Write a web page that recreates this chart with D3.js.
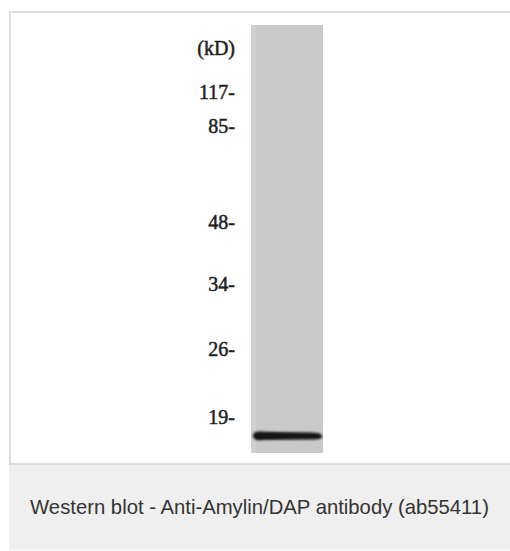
<!DOCTYPE html>
<html>
<head>
<meta charset="utf-8">
<script src="https://cdn.jsdelivr.net/npm/d3@7"></script>
<style>
  html, body { margin: 0; padding: 0; background: #fff; }
  svg { display: block; }
</style>
</head>
<body>
<div id="chart-area"></div>
<script>
// marker ladder (kD) and how far each ran down the lane (0 = top, 1 = bottom)
var markerKd = [117, 85, 48, 34, 26, 19];
var markerMigration = [0.157, 0.236, 0.460, 0.605, 0.757, 0.916];
var unitLabel = "(kD)";
var unitMigration = 0.054;

// detected bands in the single lane
var bandMigration = [0.960];
var bandIntensity = [1];

var caption = "Western blot - Anti-Amylin/DAP antibody (ab55411)";

var width = 510, height = 551;

var svg = d3.select("#chart-area").append("svg")
    .attr("width", width)
    .attr("height", height);

// frame + caption panel
svg.append("rect")
    .attr("x", 10).attr("y", 12)
    .attr("width", width).attr("height", 452)
    .attr("fill", "#fff")
    .attr("stroke", "#dedede")
    .attr("stroke-width", 2);

svg.append("rect")
    .attr("x", 9).attr("y", 464)
    .attr("width", width - 9).attr("height", 86)
    .attr("fill", "#eeefee");

svg.append("line")
    .attr("x1", 9).attr("x2", width)
    .attr("y1", 464.5).attr("y2", 464.5)
    .attr("stroke", "#dcdcdc");

svg.append("text")
    .attr("x", 259.5)
    .attr("y", 514)
    .attr("text-anchor", "middle")
    .attr("font-family", "'Liberation Sans', Arial, sans-serif")
    .attr("font-size", 20.3)
    .attr("fill", "#333")
    .text(caption);

// lane
var lane = {x0: 251, x1: 323, top: 25, bottom: 453};

var y = d3.scaleLinear()
    .domain([0, 1])
    .range([lane.top, lane.bottom]);

var defs = svg.append("defs");
defs.append("filter").attr("id", "blur")
    .attr("x", "-20%").attr("y", "-100%")
    .attr("width", "140%").attr("height", "300%")
    .append("feGaussianBlur").attr("stdDeviation", 0.9);

svg.append("rect")
    .attr("x", lane.x0).attr("y", lane.top)
    .attr("width", lane.x1 - lane.x0)
    .attr("height", lane.bottom - lane.top)
    .attr("fill", "#c9c9c9");

// slightly lighter strip down the left edge of the lane
svg.append("rect")
    .attr("x", lane.x0).attr("y", lane.top)
    .attr("width", 5)
    .attr("height", lane.bottom - lane.top)
    .attr("fill", "#cfcfcf");

var shade = d3.scaleLinear().domain([0, 1]).range(["#c9c9c9", "#151515"]);

svg.selectAll(".band")
    .data(bandMigration)
    .enter()
    .append("path")
    .attr("class", "band")
    .attr("fill", function(d, i) { return shade(bandIntensity[i]); })
    .attr("filter", "url(#blur)")
    .attr("d", function(d) {
        var cy = y(d), l = lane.x0 + 2, r = lane.x1 - 1;
        // thicker on the left, tapering a little to the right
        return "M" + l + "," + cy +
            "C" + l + "," + (cy - 5) + " " + (l + 6) + "," + (cy - 4.5) + " " + (l + 12) + "," + (cy - 4.2) +
            "L" + (r - 10) + "," + (cy - 3.4) +
            "C" + (r - 2) + "," + (cy - 3.2) + " " + r + "," + (cy - 1.5) + " " + r + "," + (cy + 0.3) +
            "C" + r + "," + (cy + 2.5) + " " + (r - 2) + "," + (cy + 3.6) + " " + (r - 10) + "," + (cy + 3.6) +
            "L" + (l + 12) + "," + (cy + 4.2) +
            "C" + (l + 6) + "," + (cy + 4.5) + " " + l + "," + (cy + 4.5) + " " + l + "," + cy + "Z";
    });

// marker labels
var labelX = 235;
var labelFont = "'Liberation Serif', 'Times New Roman', serif";

svg.selectAll(".marker")
    .data(markerKd)
    .enter()
    .append("text")
    .attr("class", "marker")
    .attr("x", labelX)
    .attr("y", function(d, i) { return y(markerMigration[i]); })
    .attr("dy", "0.36em")
    .attr("text-anchor", "end")
    .attr("font-family", labelFont)
    .attr("font-size", 20)
    .attr("fill", "#1e1e1e")
    .attr("stroke", "#1e1e1e")
    .attr("stroke-width", 0.5)
    .text(function(d) { return d + "-"; });

svg.append("text")
    .attr("x", labelX)
    .attr("y", y(unitMigration))
    .attr("dy", "0.36em")
    .attr("text-anchor", "end")
    .attr("font-family", labelFont)
    .attr("font-size", 20)
    .attr("fill", "#1e1e1e")
    .attr("stroke", "#1e1e1e")
    .attr("stroke-width", 0.5)
    .text(unitLabel);
</script>
</body>
</html>
